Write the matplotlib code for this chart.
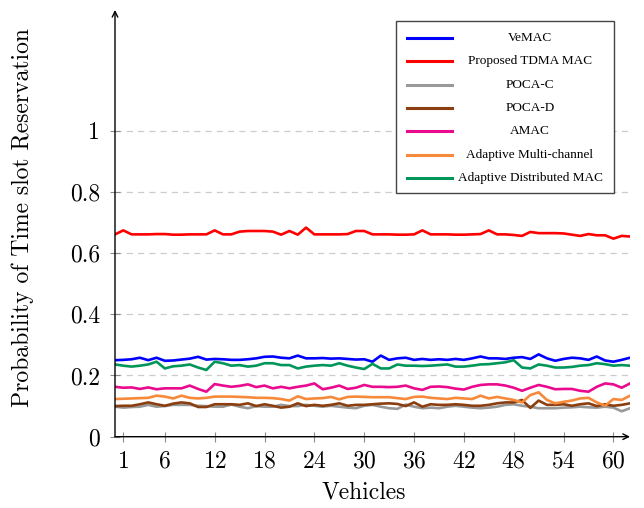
import matplotlib
matplotlib.use('Agg')
import matplotlib.pyplot as plt
from matplotlib.patches import Rectangle

# x positions (vehicles) and per-protocol probabilities
vehicles = list(range(0, 63))
xtick_vals = [1, 6, 12, 18, 24, 30, 36, 42, 48, 54, 60]
ytick_vals = [0, 0.2, 0.4, 0.6, 0.8, 1.0]
ytick_labels = ['0', '0.2', '0.4', '0.6', '0.8', '1']

vemac = [0.250, 0.251, 0.253, 0.258, 0.250, 0.258, 0.248, 0.249, 0.252, 0.255, 0.261, 0.252, 0.254,
         0.253, 0.251, 0.251, 0.253, 0.256, 0.261, 0.262, 0.258, 0.256, 0.265, 0.256, 0.256, 0.257,
         0.255, 0.256, 0.254, 0.252, 0.253, 0.245, 0.265, 0.251, 0.256, 0.258, 0.251, 0.254,
         0.251, 0.253, 0.251, 0.254, 0.251, 0.256, 0.262, 0.256, 0.256, 0.254, 0.258, 0.260,
         0.254, 0.269, 0.256, 0.248, 0.254, 0.258, 0.256, 0.251, 0.262, 0.249, 0.245, 0.251, 0.258]
proposed = [0.661, 0.674, 0.661, 0.661, 0.661, 0.662, 0.662, 0.660, 0.660, 0.661, 0.661, 0.661,
            0.674, 0.661, 0.661, 0.670, 0.672, 0.672, 0.672, 0.670, 0.660, 0.672, 0.660, 0.683,
            0.661, 0.661, 0.661, 0.661, 0.662, 0.672, 0.672, 0.661, 0.661, 0.661, 0.660, 0.660,
            0.661, 0.674, 0.661, 0.661, 0.661, 0.660, 0.660, 0.661, 0.662, 0.674, 0.661, 0.661,
            0.659, 0.656, 0.669, 0.665, 0.665, 0.665, 0.664, 0.660, 0.656, 0.662, 0.658, 0.658,
            0.647, 0.656, 0.654]
poca_c = [0.098, 0.095, 0.097, 0.098, 0.104, 0.098, 0.100, 0.104, 0.104, 0.104, 0.101, 0.100, 0.098,
          0.098, 0.105, 0.098, 0.093, 0.100, 0.098, 0.098, 0.104, 0.100, 0.100, 0.104, 0.101, 0.098,
          0.101, 0.098, 0.095, 0.093, 0.101, 0.104, 0.098, 0.093, 0.091, 0.105, 0.098, 0.093,
          0.095, 0.093, 0.098, 0.101, 0.098, 0.095, 0.093, 0.095, 0.098, 0.104, 0.106, 0.101,
          0.098, 0.093, 0.093, 0.093, 0.095, 0.096, 0.098, 0.096, 0.095, 0.098, 0.095, 0.083, 0.093]
poca_d = [0.100, 0.101, 0.101, 0.106, 0.112, 0.106, 0.101, 0.108, 0.112, 0.109, 0.097, 0.097, 0.106,
          0.106, 0.106, 0.104, 0.109, 0.100, 0.106, 0.101, 0.095, 0.098, 0.109, 0.100, 0.104, 0.101,
          0.104, 0.109, 0.101, 0.104, 0.104, 0.106, 0.108, 0.109, 0.107, 0.100, 0.112, 0.098,
          0.106, 0.104, 0.104, 0.106, 0.104, 0.101, 0.101, 0.104, 0.109, 0.112, 0.112, 0.120,
          0.094, 0.118, 0.104, 0.104, 0.106, 0.101, 0.106, 0.109, 0.100, 0.106, 0.101, 0.104, 0.109]
amac = [0.163, 0.160, 0.161, 0.156, 0.161, 0.155, 0.158, 0.158, 0.158, 0.167, 0.156, 0.147, 0.172,
        0.167, 0.163, 0.166, 0.171, 0.162, 0.167, 0.158, 0.163, 0.158, 0.163, 0.167, 0.174, 0.155,
        0.160, 0.167, 0.156, 0.160, 0.169, 0.163, 0.163, 0.162, 0.163, 0.167, 0.158, 0.153,
        0.163, 0.164, 0.162, 0.157, 0.154, 0.163, 0.169, 0.171, 0.171, 0.167, 0.160, 0.150,
        0.160, 0.169, 0.163, 0.155, 0.156, 0.156, 0.150, 0.147, 0.163, 0.174, 0.171, 0.160, 0.174]
adaptive_mc = [0.123, 0.124, 0.125, 0.126, 0.127, 0.134, 0.131, 0.125, 0.134, 0.127, 0.125, 0.127, 0.131,
               0.131, 0.131, 0.130, 0.129, 0.127, 0.127, 0.126, 0.123, 0.118, 0.132, 0.123, 0.125, 0.126,
               0.130, 0.122, 0.130, 0.131, 0.130, 0.129, 0.129, 0.129, 0.126, 0.123, 0.130, 0.131,
               0.127, 0.125, 0.123, 0.127, 0.125, 0.123, 0.134, 0.125, 0.130, 0.125, 0.120, 0.112,
               0.136, 0.145, 0.120, 0.109, 0.114, 0.118, 0.125, 0.127, 0.112, 0.101, 0.123, 0.120, 0.134]
adaptive_dist = [0.236, 0.232, 0.229, 0.232, 0.236, 0.245, 0.223, 0.230, 0.232, 0.236, 0.226, 0.218, 0.245,
                 0.240, 0.232, 0.234, 0.229, 0.232, 0.240, 0.240, 0.234, 0.234, 0.223, 0.229, 0.232, 0.234,
                 0.232, 0.240, 0.232, 0.226, 0.221, 0.238, 0.223, 0.223, 0.236, 0.232, 0.232, 0.231,
                 0.232, 0.234, 0.236, 0.229, 0.229, 0.232, 0.236, 0.237, 0.240, 0.243, 0.250, 0.226,
                 0.223, 0.236, 0.232, 0.226, 0.226, 0.228, 0.232, 0.234, 0.240, 0.237, 0.232, 0.234, 0.232]

series = [
    ('VeMAC', vemac, '#0000ff'),
    ('Proposed TDMA MAC', proposed, '#ff0000'),
    ('POCA-C', poca_c, '#999999'),
    ('POCA-D', poca_d, '#8b3e0f'),
    ('AMAC', amac, '#ea0a8e'),
    ('Adaptive Multi-channel', adaptive_mc, '#f7893b'),
    ('Adaptive Distributed MAC', adaptive_dist, '#00965a'),
]

plt.rcParams['font.family'] = 'serif'
plt.rcParams['font.serif'] = ['cmr10', 'DejaVu Serif']
plt.rcParams['axes.formatter.use_mathtext'] = True

W, H = 644, 508
fig = plt.figure(figsize=(W / 100, H / 100), dpi=100)
ax = fig.add_axes([115 / W, 1 - 436.7 / H, 515 / W, 426.7 / H])

for name, vals, col in series:
    ax.plot(vehicles, vals, color=col, linewidth=1.9, solid_joinstyle='round')

ax.set_xlim(0, 62)
ax.set_ylim(0, 1.394)
ax.set_xticks(xtick_vals)
ax.set_yticks(ytick_vals)
ax.set_yticklabels(ytick_labels)
ax.tick_params(direction='inout', length=7, width=0.8, color='#8c8c8c',
               labelsize=17, pad=6.5)
ax.tick_params(axis='y', pad=7.3)
ax.grid(axis='y', linestyle=(0, (5, 4)), color='#cccccc', linewidth=0.9)
ax.set_axisbelow(True)

for s in ax.spines.values():
    s.set_visible(False)
ax.annotate('', xy=(1, 0), xytext=(0, 0), xycoords='axes fraction',
            arrowprops=dict(arrowstyle='->', lw=1.0, color='black', shrinkA=0, shrinkB=0))
ax.annotate('', xy=(0, 1), xytext=(0, 0), xycoords='axes fraction',
            arrowprops=dict(arrowstyle='->', lw=1.0, color='black', shrinkA=0, shrinkB=0))

ax.set_xlabel('Vehicles', fontsize=17)
ax.set_ylabel('Probability of Time slot Reservation', fontsize=17)
ax.xaxis.set_label_coords(0.4835, -0.105)
ax.yaxis.set_label_coords(-0.157, 0.514)

# legend box with centred entries
box = Rectangle((396 / W, 1 - 193 / H), 218 / W, 172 / H, transform=fig.transFigure,
                facecolor='white', edgecolor='#444444', linewidth=1.0, zorder=5)
fig.patches.append(box)
for i, (name, vals, col) in enumerate(series):
    yy = 1 - (37.7 + i * 23.43) / H
    fig.lines.append(plt.Line2D([406.7 / W, 451.7 / W], [yy, yy], transform=fig.transFigure,
                                color=col, linewidth=2.2, zorder=6))
    fig.text(530 / W, yy, name, ha='center', va='center', fontsize=9.5,
             family='Liberation Serif', zorder=6)

fig.savefig('out.png', dpi=100)
